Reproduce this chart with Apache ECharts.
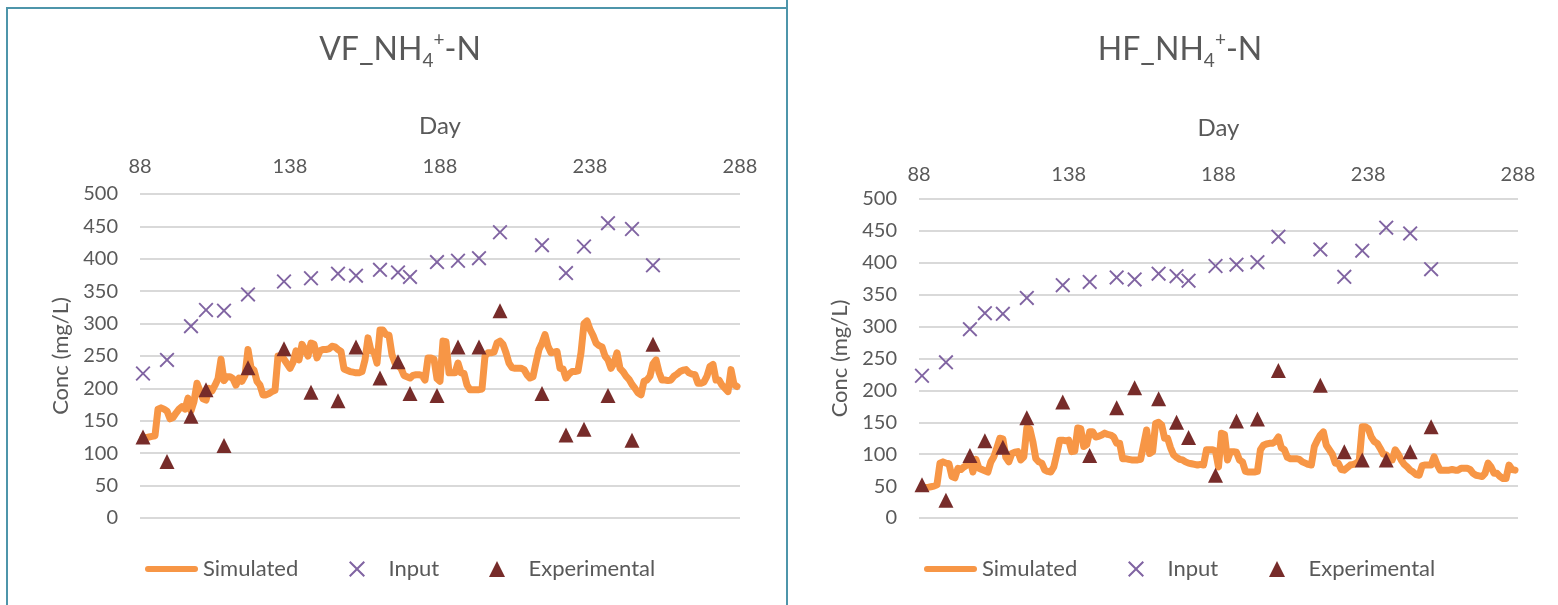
<!DOCTYPE html>
<html>
<head>
<meta charset="utf-8">
<script src="https://cdn.jsdelivr.net/npm/echarts@6/dist/echarts.min.js"></script>
<style>
  html, body { margin: 0; padding: 0; background: #ffffff; }
  #chart { width: 1558px; height: 605px; }
</style>
</head>
<body>
<div id="chart"></div>
<script>
// Sampling days (day of operation)
const dayTicks = [88, 138, 188, 238, 288];
const concTicks = [0, 50, 100, 150, 200, 250, 300, 350, 400, 450, 500];

// Days on which influent / effluent samples were taken
const sampleDays = [89, 97, 105, 110, 116, 124, 136, 145, 154, 160, 168, 174, 178, 187, 194, 201, 208, 222, 230, 236, 244, 252, 259];

// Influent NH4+-N (same feed for both filters)
const inputConc = [223, 244, 296, 321, 320, 345, 365, 370, 377, 374, 383, 379, 372, 395, 397, 401, 441, 421, 378, 419, 455, 446, 390];

// Measured effluent NH4+-N
const vfExperimental = [125, 87, 157, 198, 112, 232, 261, 194, 181, 264, 216, 241, 192, 189, 264, 264, 320, 192, 128, 137, 189, 120, 268];
const hfExperimental = [52, 28, 98, 121, 111, 157, 182, 98, 173, 204, 187, 150, 126, 67, 152, 155, 231, 208, 104, 91, 91, 104, 143];

// Daily model output, days 89..287
const simStartDay = 89;
const vfSimulated = [
  125, 124, 125, 126, 127, 168, 170, 168, 165, 153, 155, 162, 168, 172, 168, 185, 165, 180, 208, 196,
  184, 182, 200, 196, 205, 215, 245, 212, 218, 218, 215, 205, 216, 211, 220, 260, 232, 228, 211, 205,
  190, 190, 192, 195, 197, 250, 250, 245, 238, 231, 240, 258, 244, 268, 260, 250, 270, 268, 247, 258,
  260, 260, 261, 265, 264, 260, 257, 230, 228, 226, 225, 224, 224, 226, 244, 278, 258, 256, 239, 290,
  290, 283, 282, 252, 239, 235, 231, 220, 218, 216, 220, 221, 221, 220, 213, 247, 247, 245, 215, 211,
  273, 272, 224, 224, 224, 239, 224, 223, 205, 198, 198, 198, 198, 199, 250, 255, 255, 256, 270, 273,
  268, 255, 239, 232, 231, 231, 231, 229, 221, 216, 218, 240, 260, 270, 283, 265, 255, 256, 257, 231,
  230, 216, 222, 226, 226, 227, 255, 300, 304, 291, 282, 270, 266, 264, 250, 244, 231, 239, 255, 231,
  226, 219, 214, 206, 200, 193, 190, 211, 213, 219, 238, 244, 225, 213, 213, 212, 213, 219, 222, 226,
  228, 229, 224, 222, 221, 208, 208, 210, 219, 234, 237, 213, 213, 205, 200, 195, 229, 206, 203
];
const hfSimulated = [
  48, 48, 48, 49, 50, 52, 86, 88, 86, 85, 65, 63, 78, 76, 80, 83, 93, 72, 92, 78,
  76, 74, 72, 88, 96, 110, 125, 124, 95, 88, 101, 103, 104, 91, 96, 141, 140, 120, 93, 88,
  86, 75, 73, 72, 80, 100, 122, 122, 121, 122, 104, 105, 141, 140, 112, 115, 135, 135, 127, 128,
  130, 133, 131, 130, 127, 117, 117, 93, 93, 92, 91, 91, 91, 92, 115, 138, 101, 104, 148, 150,
  146, 125, 125, 110, 99, 95, 92, 91, 88, 86, 85, 84, 83, 84, 83, 107, 107, 107, 105, 80,
  133, 131, 91, 104, 104, 103, 91, 88, 73, 72, 72, 72, 73, 107, 114, 116, 117, 117, 120, 127,
  110, 107, 95, 93, 93, 93, 92, 88, 86, 84, 83, 112, 122, 130, 135, 114, 107, 100, 86, 86,
  76, 75, 79, 83, 84, 86, 90, 143, 143, 140, 127, 120, 117, 109, 100, 99, 92, 91, 107, 100,
  91, 84, 80, 75, 72, 68, 67, 82, 83, 83, 83, 96, 84, 75, 75, 75, 75, 76, 75, 75,
  78, 78, 78, 76, 70, 67, 66, 65, 70, 86, 80, 70, 70, 65, 62, 62, 83, 76, 75
];

const TEXT = '#595959';
const ORANGE = '#F79646';
const PURPLE = '#8064A2';
const DARKRED = '#772C2A';
const FRAME = '#4E95AA';
const FONT = 'Lato, "Open Sans", sans-serif';

// Filled "x" cross used for the influent markers and their legend key
const CROSS = 'path://M9,0 L50,41 L91,0 L100,9 L59,50 L100,91 L91,100 L50,59 L9,100 L0,91 L41,50 L0,9 Z';
const TRIANGLE = 'path://M50,0 L100,100 L0,100 Z';
const LINE_KEY = 'path://M3,0 H50 A3,3 0 0 1 50,6 H3 A3,3 0 0 1 3,0 Z';

function pairs(xs, ys) { return xs.map((x, i) => [x, ys[i]]); }
function daily(start, ys) { return ys.map((y, i) => [start + i, y]); }

function xAxisFor(gridIndex, labelMargin, nameGap) {
  return {
    gridIndex, type: 'value', position: 'top', min: 88, max: 288,
    axisLine: { show: false }, axisTick: { show: false }, splitLine: { show: false },
    axisLabel: { customValues: dayTicks, color: TEXT, fontSize: 20, fontFamily: FONT, margin: labelMargin },
    name: 'Day', nameLocation: 'middle', nameGap,
    nameTextStyle: { color: TEXT, fontSize: 24, fontFamily: FONT }
  };
}
function yAxisFor(gridIndex) {
  return {
    gridIndex, type: 'value', min: 0, max: 500, interval: 50,
    axisLine: { show: false }, axisTick: { show: false },
    splitLine: { lineStyle: { color: '#D9D9D9', width: 2 } },
    axisLabel: { customValues: concTicks, color: TEXT, fontSize: 20, fontFamily: FONT, margin: 22 },
    name: 'Conc (mg/L)', nameLocation: 'middle', nameGap: 68,
    nameTextStyle: { color: TEXT, fontSize: 22, fontFamily: FONT }
  };
}
function seriesFor(idx, sim, exp) {
  return [
    { name: 'Simulated', type: 'line', xAxisIndex: idx, yAxisIndex: idx,
      data: daily(simStartDay, sim), symbol: 'none', color: ORANGE,
      lineStyle: { width: 7, color: ORANGE, cap: 'round', join: 'round' }, z: 2 },
    { name: 'Input', type: 'scatter', xAxisIndex: idx, yAxisIndex: idx,
      data: pairs(sampleDays, inputConc), symbol: CROSS, symbolSize: 15,
      color: PURPLE, itemStyle: { color: PURPLE, opacity: 1 }, z: 3 },
    { name: 'Experimental', type: 'scatter', xAxisIndex: idx, yAxisIndex: idx,
      data: pairs(sampleDays, exp), symbol: TRIANGLE, symbolSize: 15,
      color: DARKRED, itemStyle: { color: DARKRED, opacity: 1 }, z: 4 }
  ];
}
function legendItem(name, icon, left) {
  return {
    data: [{ name, icon }], left, top: 558, padding: 0, orient: 'horizontal',
    itemWidth: 53, itemHeight: 16, selectedMode: false, symbolKeepAspect: true,
    itemStyle: { opacity: 1 },
    textStyle: { color: TEXT, fontSize: 22, fontFamily: FONT }
  };
}
function titleFor(text, center, top) {
  return {
    text, left: center, top, textAlign: 'center',
    textStyle: {
      color: TEXT, fontSize: 32, fontWeight: 'normal', fontFamily: FONT, lineHeight: 40,
      rich: {
        b: { color: TEXT, fontSize: 32, fontFamily: FONT, lineHeight: 40 },
        sub: { color: TEXT, fontSize: 19, fontFamily: FONT, lineHeight: 22, verticalAlign: 'bottom' },
        sup: { color: TEXT, fontSize: 19, fontFamily: FONT, lineHeight: 22, verticalAlign: 'top' }
      }
    }
  };
}

const chart = echarts.init(document.getElementById('chart'), null, { renderer: 'canvas' });
chart.setOption({
  backgroundColor: '#ffffff',
  animation: false,
  title: [
    titleFor('{b|VF_NH}{sub|4}{sup|+}{b|-N}', 395, 25),
    titleFor('{b|HF_NH}{sub|4}{sup|+}{b|-N}', 1175, 25)
  ],
  graphic: [
    { type: 'rect', silent: true, z: -1, shape: { x: 7, y: 8, width: 780, height: 620 },
      style: { fill: 'none', stroke: FRAME, lineWidth: 2 } },
    { type: 'rect', silent: true, z: -1, shape: { x: 787, y: -10, width: 800, height: 640 },
      style: { fill: 'none', stroke: FRAME, lineWidth: 2 } }
  ],
  grid: [
    { left: 140, top: 194, width: 600, height: 324 },
    { left: 919, top: 199, width: 599, height: 319 }
  ],
  xAxis: [xAxisFor(0, 17, 56), xAxisFor(1, 14, 59)],
  yAxis: [yAxisFor(0), yAxisFor(1)],
  legend: [
    legendItem('Simulated', LINE_KEY, 145),
    legendItem('Input', CROSS, 349),
    legendItem('Experimental', TRIANGLE, 489),
    legendItem('Simulated', LINE_KEY, 924),
    legendItem('Input', CROSS, 1128),
    legendItem('Experimental', TRIANGLE, 1269)
  ],
  series: [].concat(seriesFor(0, vfSimulated, vfExperimental), seriesFor(1, hfSimulated, hfExperimental))
});
</script>
</body>
</html>
